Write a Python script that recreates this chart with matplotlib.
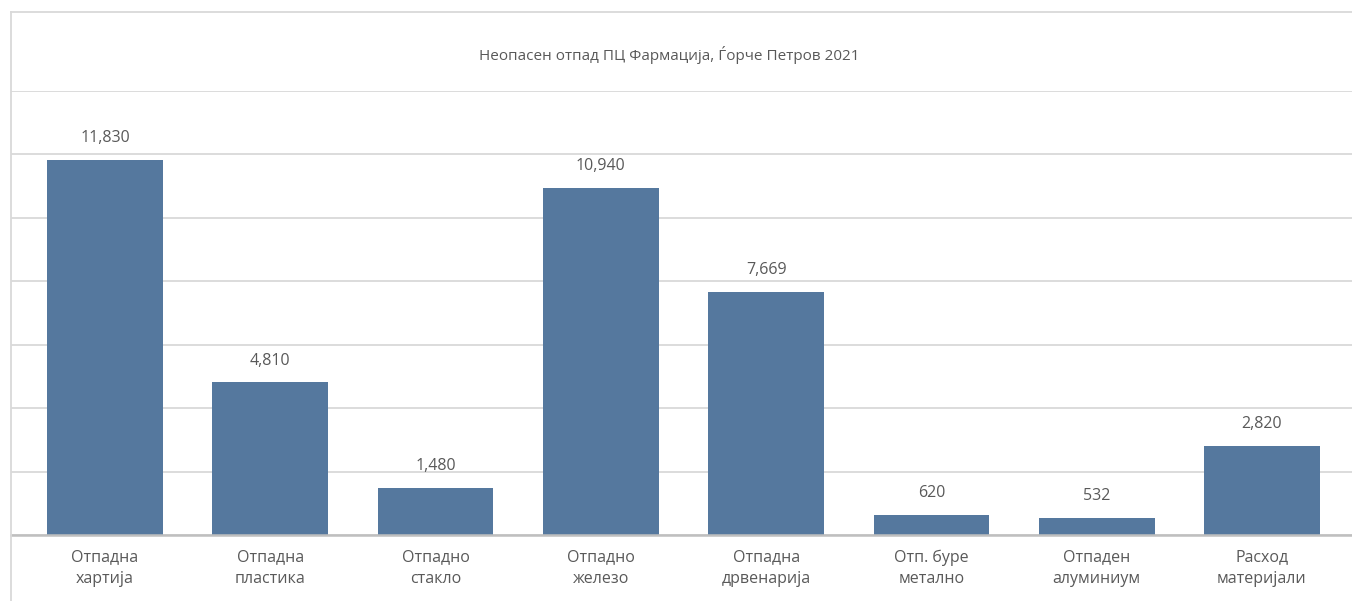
import matplotlib
matplotlib.use("Agg")
import matplotlib.pyplot as plt
from matplotlib.lines import Line2D

categories = ["Отпадна\nхартија", "Отпадна\nпластика", "Отпадно\nстакло", "Отпадно\nжелезо",
              "Отпадна\nдрвенарија", "Отп. буре\nметално", "Отпаден\nалуминиум", "Расход\nматеријали"]
values = [11830, 4810, 1480, 10940, 7669, 620, 532, 2820]
title = "Неопасен отпад ПЦ Фармација, Ѓорче Петров 2021"

plt.rcParams['font.family'] = ['Open Sans', 'DejaVu Sans']
W, H = 1352, 601
fig = plt.figure(figsize=(W / 100, H / 100), dpi=100)
fig.patch.set_facecolor("white")

# axes in pixel coordinates
x0, x1 = 11, 1352
y_base, y_top = 535, 91
ax = fig.add_axes([x0 / W, 1 - y_base / H, (x1 - x0) / W, (y_base - y_top) / H])
ax.set_facecolor("white")

xs = list(range(len(categories)))
ax.bar(xs, values, width=0.70, color="#55789E", zorder=3)
for x, v in zip(xs, values):
    ax.annotate(f"{v:,}", (x, v), xytext=(0, 10), textcoords="offset points",
                ha="center", va="bottom", fontsize=11.5, color="#595959")

ax.set_ylim(0, 14000)
ax.set_xlim(-0.569, 7.545)
ax.set_yticks(range(0, 14001, 2000))
ax.yaxis.grid(True, color="#D9D9D9", linewidth=1.3, zorder=0)
ax.tick_params(axis="y", left=False, labelleft=False)
ax.tick_params(axis="x", bottom=False, pad=7)
ax.set_xticks(xs)
ax.set_xticklabels(categories, fontsize=11.5, color="#595959", linespacing=1.45)
for s in ["top", "right", "left"]:
    ax.spines[s].set_visible(False)
ax.spines["bottom"].set_color("#BFBFBF")
ax.spines["bottom"].set_linewidth(1.8)
ax.spines["bottom"].set_zorder(4)

# chart border
fig.add_artist(Line2D([x0 / W, x0 / W], [0, 1 - 12 / H], transform=fig.transFigure,
                      color="#D9D9D9", linewidth=1.3))
fig.add_artist(Line2D([x0 / W, 1], [1 - 12 / H, 1 - 12 / H], transform=fig.transFigure,
                      color="#D9D9D9", linewidth=1.3))

fig.text(669 / W, 1 - 55 / H, title, ha="center", va="center", fontsize=11, color="#595959")

fig.savefig("out.png", dpi=100, facecolor="white")
